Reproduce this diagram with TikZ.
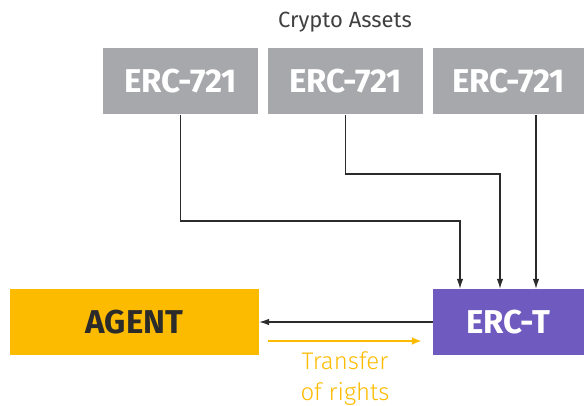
\documentclass[tikz,border=0pt]{standalone}
\usepackage{fontspec}
\setmainfont{Fira Sans}
\newfontfamily\thinfont{Fira Sans Light}
\usetikzlibrary{arrows.meta,positioning}

\definecolor{assetgray}{HTML}{A7A8AB}
\definecolor{agentyellow}{HTML}{FDBB00}
\definecolor{ercpurple}{HTML}{6F5AC0}
\definecolor{linedark}{HTML}{2B2B2B}

\begin{document}
\begin{tikzpicture}[x=1pt, y=-1pt,
    block/.style={minimum height=66pt, inner sep=0pt, font=\fontsize{33}{33}\selectfont\bfseries},
    asset/.style={block, fill=assetgray, text=white, minimum width=155pt},
    link/.style={draw=linedark, line width=1.1pt, -{Latex[length=10pt,width=6.5pt]}},
    rights/.style={draw=agentyellow, line width=2.4pt, -{Latex[length=10pt,width=8pt]}}]
  \useasboundingbox (0,0) rectangle (584,406);

  \node (title) at (345,22) {\fontsize{22}{22}\selectfont\color{linedark!90}Crypto Assets};

  \node[asset] (A1) at (180.5,81.5) {ERC-721};
  \node[asset] (A2) at (345.5,81.5) {ERC-721};
  \node[asset, minimum width=151pt] (A3) at (508.5,81.5) {ERC-721};

  \node[block, fill=agentyellow, text=linedark, minimum width=249pt] (G) at (134.5,322) {AGENT};
  \node[block, fill=ercpurple, text=white, minimum width=151pt] (T) at (508.5,322) {ERC-T};

  % assets into ERC-T
  \draw[link] (A1.south) -- (A1.south |- 0,221) -| ([xshift=-48.5pt]T.north);
  \draw[link] (A2.south) -- (A2.south |- 0,174) -| ([xshift=-8.5pt]T.north);
  \draw[link] ([xshift=27.5pt]A3.south) -- ([xshift=27.5pt]T.north);

  % back to the agent
  \draw[link] (T.west) -- (G.east);
  \draw[rights] ([xshift=9pt,yshift=-19pt]G.east) -- ([xshift=-11pt,yshift=-19pt]T.west)
    node[midway, below=6pt, align=center, text=agentyellow,
         font=\thinfont\fontsize{24}{31}\selectfont] (lbl) {Transfer\\of rights};
\end{tikzpicture}
\end{document}
